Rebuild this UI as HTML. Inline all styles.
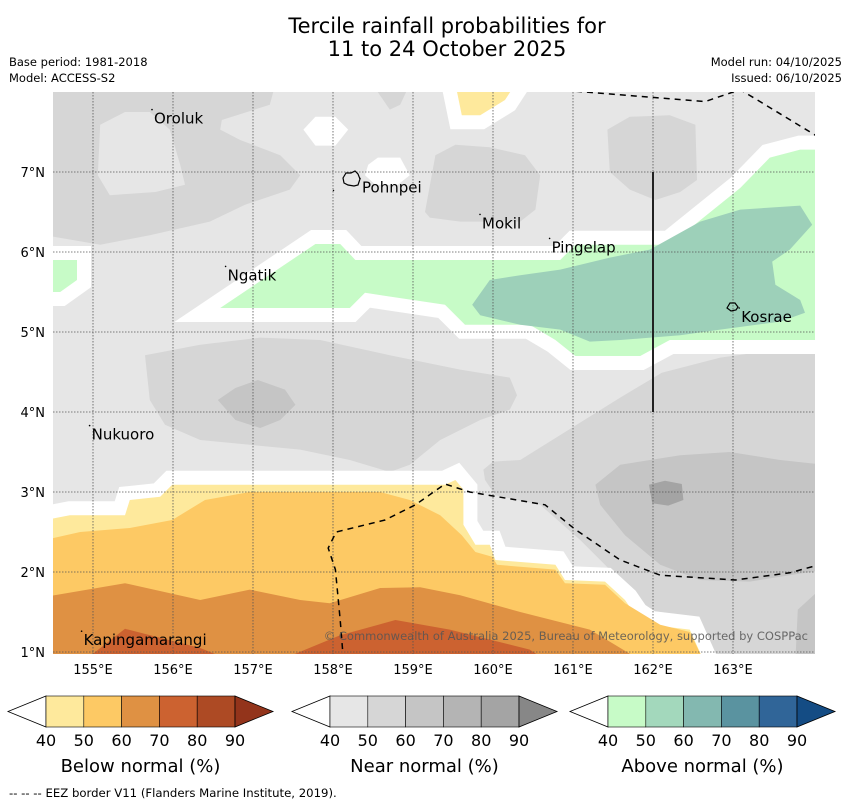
<!DOCTYPE html>
<html><head><meta charset="utf-8"><style>
body{margin:0;background:#fff;font-family:"Liberation Sans","DejaVu Sans",sans-serif}
svg text{font-family:"DejaVu Sans","Liberation Sans",sans-serif}
</style></head><body>
<svg id="s" width="850" height="804" xmlns="http://www.w3.org/2000/svg">
<defs><clipPath id="mapclip"><rect x="53" y="92" width="762" height="562"/></clipPath></defs>
<text x="447" y="33" font-size="21" text-anchor="middle">Tercile rainfall probabilities for</text>
<text x="447" y="56" font-size="21" text-anchor="middle">11 to 24 October 2025</text>
<text x="9" y="66" font-size="11.5">Base period: 1981-2018</text>
<text x="9" y="82" font-size="11.5">Model: ACCESS-S2</text>
<text x="842" y="66" font-size="11.5" text-anchor="end">Model run: 04/10/2025</text>
<text x="842" y="82" font-size="11.5" text-anchor="end">Issued: 06/10/2025</text>
<g id="map" clip-path="url(#mapclip)"></g>
<g id="overlay"></g>
<g id="bars"></g>
<text x="9" y="797" font-size="11.7">--  --  -- EEZ border V11 (Flanders Marine Institute, 2019).</text>
</svg>
<script>
const lonTicks=[155,156,157,158,159,160,161,162,163];
const latTicks=[1,2,3,4,5,6,7];
const greenMain=[[156.59,5.30],[157.78,6.10],[158.09,6.10],[158.28,5.90],[160.84,5.90],[161.03,6.09],[162.21,6.09],[163.09,6.80],[163.46,7.18],[163.84,7.28],[164.03,7.28],[164.03,4.90],[163.09,4.90],[162.21,4.90],[161.84,4.70],[161.03,4.70],[160.78,4.90],[160.46,5.09],[159.65,5.09],[159.40,5.34],[158.40,5.49],[158.21,5.30]];
const greenLeft=[[154.4,5.90],[154.8,5.90],[154.8,5.65],[154.59,5.50],[154.4,5.50]];
const teal=[[159.74,5.34],[159.96,5.65],[160.34,5.71],[160.84,5.78],[161.46,5.93],[161.96,6.03],[162.59,6.38],[163.09,6.53],[163.84,6.58],[163.99,6.34],[163.71,6.03],[163.49,5.88],[163.53,5.59],[163.84,5.40],[163.90,5.24],[163.59,5.13],[162.84,5.03],[162.34,4.96],[161.59,4.90],[161.21,4.88],[160.84,5.03],[160.34,5.09],[159.84,5.21]];
const grayTopLeft=[[154.4,8.1],[157.28,8.1],[157.21,7.84],[156.61,7.65],[156.59,7.53],[156.84,7.40],[157.34,7.21],[157.59,6.96],[157.46,6.78],[156.90,6.59],[156.46,6.38],[155.71,6.21],[155.09,6.09],[154.4,6.21]];
const orolukLight=[[155.09,7.59],[155.40,7.75],[155.71,7.75],[155.96,7.53],[156.09,7.09],[156.15,6.84],[155.78,6.75],[155.21,6.71],[155.06,6.96]];
const grayTopSmall=[[158.49,8.1],[158.96,8.1],[158.84,7.84],[158.71,7.78]];
const grayMokil=[[159.15,6.50],[159.28,7.21],[159.53,7.34],[159.96,7.31],[160.40,7.21],[160.59,6.96],[160.53,6.53],[160.34,6.38],[159.59,6.38],[159.21,6.43]];
const grayNE=[[161.43,7.53],[161.71,7.69],[162.21,7.71],[162.53,7.59],[162.55,6.90],[162.34,6.75],[162.03,6.65],[161.71,6.78],[161.46,7.00]];
const yellowTop=[[159.53,8.1],[160.28,8.1],[160.15,7.90],[159.84,7.71],[159.61,7.71]];
const white1=[[157.63,7.53],[157.78,7.69],[158.03,7.69],[158.19,7.53],[158.03,7.33],[157.78,7.33]];
const white2=[[158.44,7.09],[158.56,7.18],[158.84,7.18],[158.96,6.96],[158.81,6.84],[158.53,6.84],[158.40,6.96]];
const grayMid=[[155.65,4.71],[156.34,4.84],[157.09,4.93],[157.84,4.90],[158.71,4.71],[159.59,4.53],[160.21,4.43],[160.30,4.21],[160.21,4.03],[159.84,3.90],[159.34,3.65],[158.96,3.34],[158.71,3.25],[158.21,3.40],[157.59,3.53],[156.96,3.59],[156.34,3.65],[155.90,3.84],[155.71,4.15]];
const grayMidInner=[[156.56,4.15],[156.78,4.30],[157.06,4.40],[157.40,4.28],[157.53,4.09],[157.34,3.90],[157.09,3.80],[156.78,3.90]];
const grayRight=[[159.88,3.28],[160.00,3.38],[160.34,3.40],[161.59,4.18],[162.11,4.49],[162.84,4.68],[164.15,4.86],[164.15,0.9],[162.78,0.9],[162.53,1.43],[161.84,1.53],[161.46,2.03],[161.09,2.40],[160.59,2.84],[160.03,2.96],[159.90,3.15]];
const grayRightInner=[[161.28,3.09],[161.59,3.34],[162.34,3.46],[162.96,3.50],[163.59,3.40],[164.15,3.34],[164.15,2.03],[163.71,1.96],[163.21,1.88],[162.59,1.90],[162.09,2.09],[161.65,2.46],[161.34,2.84]];
const grayDarkSpot=[[161.95,3.09],[162.15,3.14],[162.36,3.10],[162.38,2.90],[162.19,2.83],[161.99,2.86]];
const grayCorner=[[163.78,0.9],[163.81,1.53],[164.15,1.84],[164.15,0.9]];
const below40=[[154.4,2.65],[154.71,2.71],[155.40,2.71],[155.46,2.90],[155.84,2.94],[155.99,3.09],[159.40,3.09],[159.53,3.15],[159.63,3.03],[159.63,2.59],[159.78,2.34],[159.96,2.34],[160.03,2.15],[160.78,2.09],[160.90,1.90],[161.40,1.88],[161.65,1.65],[161.78,1.46],[161.96,1.34],[162.46,1.28],[162.63,0.9],[154.4,0.9]];
const below50=[[154.4,2.40],[154.84,2.50],[155.46,2.55],[155.99,2.65],[156.40,2.90],[156.96,3.00],[158.59,3.00],[158.96,2.90],[159.34,2.71],[159.61,2.46],[159.78,2.25],[159.99,2.19],[160.05,2.09],[160.78,2.03],[160.90,1.86],[161.40,1.84],[161.65,1.61],[162.09,1.34],[162.46,1.25],[162.63,0.9],[154.4,0.9]];
const below60=[[154.4,1.69],[155.40,1.86],[156.34,1.65],[156.96,1.78],[157.59,1.65],[157.96,1.61],[158.59,1.80],[159.09,1.81],[159.59,1.71],[160.34,1.50],[161.21,1.28],[161.84,0.9],[154.4,0.9]];
const below70a=[[154.9,0.9],[155.40,1.29],[156.34,1.05],[156.71,0.9]];
const below70b=[[157.34,0.9],[158.09,1.21],[158.78,1.40],[159.46,1.28],[160.46,1.03],[160.65,0.9]];
const eezTop=[[160.9,8.02],[162.65,7.88],[163.09,8.03],[164.03,7.46]];
const eezLow=[[158.13,0.9],[158.09,1.40],[158.03,2.03],[157.94,2.30],[158.04,2.50],[158.65,2.65],[159.03,2.84],[159.40,3.10],[159.71,3.00],[160.65,2.84],[161.03,2.53],[161.59,2.15],[162.09,1.96],[163.03,1.90],[163.71,1.99],[164.15,2.11]];
const islandNames=["Oroluk","Pohnpei","Mokil","Pingelap","Ngatik","Kosrae","Nukuoro","Kapingamarangi"];
const islandLon=[155.75,158.35,159.85,160.72,156.67,163.09,154.97,154.87];
const islandLat=[7.78,6.92,6.47,6.17,5.82,5.30,3.83,1.26];
const belowColors=["#fee99c","#fdc964","#df9143","#cc6230","#ad4a24"];
const nearColors=["#e6e6e6","#d6d6d6","#c5c5c5","#b4b4b4","#a4a4a4"];
const aboveColors=["#c7fbc7","#a3d8bc","#83b8b0","#5a93a0","#306598"];
const barTicks=["40","50","60","70","80","90"];

const NS="http://www.w3.org/2000/svg";
const X=lon=>93+(lon-155)*80, Y=lat=>652-(lat-1)*80;
function mk(tag,attrs,parent){const e=document.createElementNS(NS,tag);for(const k in attrs)e.setAttribute(k,attrs[k]);parent.appendChild(e);return e;}
const map=document.getElementById('map'), ov=document.getElementById('overlay'), bars=document.getElementById('bars');
const pts=a=>a.map(p=>X(p[0]).toFixed(1)+','+Y(p[1]).toFixed(1)).join(' ');
let bg=mk('rect',{x:53,y:92,width:762,height:562,fill:'#e6e6e6'},map);


function poly(a,fill,name,halo){
  if(halo){const h=mk('polygon',{points:pts(a),fill:'#fff',stroke:'#fff','stroke-width':28,'stroke-linejoin':'miter'},map);
    
    }
  const p=mk('polygon',{points:pts(a),fill:fill},map);
  
  
}
poly(grayTopLeft,'#d6d6d6','near-50-northwest');
poly(orolukLight,'#e6e6e6','near-40-oroluk');
poly(grayTopSmall,'#d6d6d6','near-50-north');
poly(grayMokil,'#d6d6d6','near-50-mokil');
poly(grayNE,'#d6d6d6','near-50-northeast');
poly(grayMid,'#d6d6d6','near-50-central');
poly(grayMidInner,'#c5c5c5','near-60-central');
poly(grayRight,'#d6d6d6','near-50-southeast');
poly(grayRightInner,'#c5c5c5','near-60-southeast');
poly(grayDarkSpot,'#a4a4a4','near-80-spot');
poly(grayCorner,'#c5c5c5','near-60-corner');
poly(white1,'#fff','no-dominant-1');
poly(white2,'#fff','no-dominant-2');
poly(yellowTop,'#fee99c','below-40-north',true);
poly(greenMain,'#c7fbc7','above-40-main',true);
poly(greenLeft,'#c7fbc7','above-40-west',true);
poly(teal,'#9dd0b9','above-50-kosrae');
poly(below40,'#fee99c','below-40-south',true);
poly(below50,'#fdc964','below-50-south');
poly(below60,'#df9143','below-60-south');
poly(below70a,'#cc6230','below-70-west');
poly(below70b,'#cc6230','below-70-central');
lonTicks.forEach(l=>{const g=mk('line',{x1:X(l),x2:X(l),y1:92,y2:654,stroke:'#555','stroke-width':0.8,'stroke-dasharray':'1.5,1.5'},ov);
 
 
 const t=mk('text',{x:X(l),y:674,'font-size':13,'text-anchor':'middle'},ov);t.textContent=l+'°E';
 
 });
latTicks.forEach(l=>{const g=mk('line',{x1:53,x2:815,y1:Y(l),y2:Y(l),stroke:'#555','stroke-width':0.8,'stroke-dasharray':'1.5,1.5'},ov);
 
 
 const t=mk('text',{x:45,y:Y(l)+5,'font-size':13,'text-anchor':'end'},ov);t.textContent=l+'°N';
 
 });
[eezTop,eezLow].forEach(a=>{const e=mk('polyline',{points:pts(a),fill:'none',stroke:'#000','stroke-width':1.5,'stroke-dasharray':'6,5','clip-path':'url(#mapclip)'},ov);
 
 });
let vl=mk('line',{x1:X(162),x2:X(162),y1:Y(7),y2:Y(4),stroke:'#222','stroke-width':2},ov);


let pb=mk('path',{d:'M343,178 l3,-5 5,0 4,-2 3,3 2,5 -2,6 -4,1 -6,-1 -4,-2z M333,191 l1,-1',fill:'none',stroke:'#000','stroke-width':1.2},ov);


let kb=mk('path',{d:'M727,308 l3,-5 5,0 3,4 -2,3 -5,1z',fill:'none',stroke:'#000','stroke-width':1.2},ov);


islandNames.forEach((n,i)=>{const x=X(islandLon[i]),y=Y(islandLat[i]);
 const d=mk('circle',{cx:x-1,cy:y,r:0.8,fill:'#000'},ov);
 
 
 const t=mk('text',{x:x+1,y:y+14,'font-size':15},ov);t.textContent=n;
 
 });
let cp=mk('text',{x:808,y:640,'font-size':11.5,'text-anchor':'end',fill:'#555','fill-opacity':0.85},ov);
cp.textContent='© Commonwealth of Australia 2025, Bureau of Meteorology, supported by COSPPac';


function bar(x0,colors,endColor,title,name){
 const w=37.8,y0=696,h=31,tri=38;
 const lt=mk('polygon',{points:`${x0-tri},${y0+h/2} ${x0},${y0} ${x0},${y0+h}`,fill:'#fff',stroke:'#000','stroke-width':0.8},bars);
 
 
 colors.forEach((c,i)=>{const r=mk('rect',{x:x0+i*w,y:y0,width:w,height:h,fill:c,stroke:'#000','stroke-width':0.6},bars);
  
  });
 const ex=x0+colors.length*w;
 const rt=mk('polygon',{points:`${ex},${y0} ${ex+tri},${y0+h/2} ${ex},${y0+h}`,fill:endColor,stroke:'#000','stroke-width':0.8},bars);
 
 
 barTicks.forEach((t,i)=>{const e=mk('text',{x:x0+i*w,y:746,'font-size':16,'text-anchor':'middle'},bars);e.textContent=t;
  
  });
 const tt=mk('text',{x:x0+colors.length*w/2,y:772,'font-size':18,'text-anchor':'middle'},bars);tt.textContent=title;
 
 
}
bar(46,belowColors,'#93341b','Below normal (%)','below-colorbar');
bar(330,nearColors,'#878787','Near normal (%)','near-colorbar');
bar(608,aboveColors,'#144c84','Above normal (%)','above-colorbar');
</script>
</body></html>
